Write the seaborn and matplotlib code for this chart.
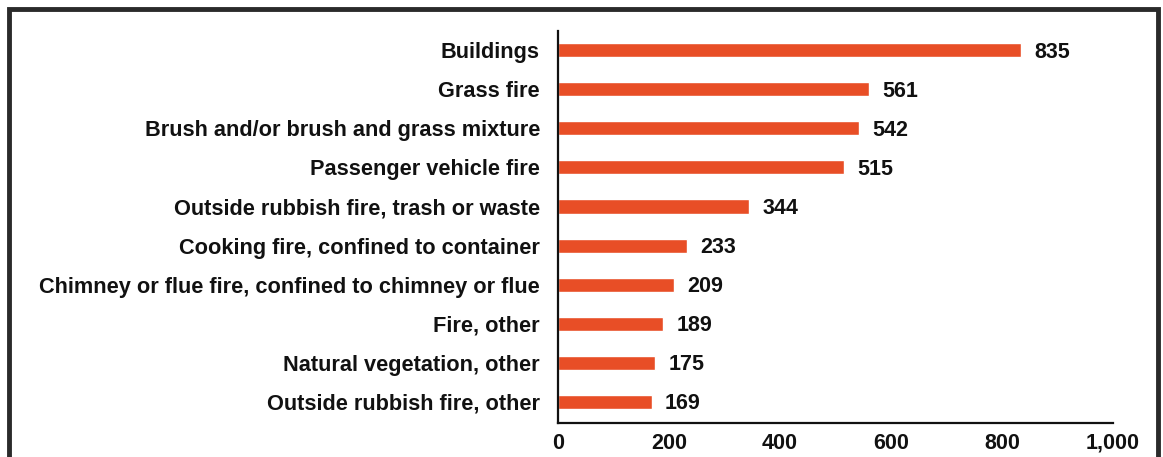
import pandas as pd
import matplotlib.pyplot as plt
import seaborn as sns
from matplotlib.patches import Rectangle
from matplotlib.ticker import FuncFormatter

# Fire incident types and counts
categories = [
    'Buildings',
    'Grass fire',
    'Brush and/or brush and grass mixture',
    'Passenger vehicle fire',
    'Outside rubbish fire, trash or waste',
    'Cooking fire, confined to container',
    'Chimney or flue fire, confined to chimney or flue',
    'Fire, other',
    'Natural vegetation, other',
    'Outside rubbish fire, other',
]
counts = [835, 561, 542, 515, 344, 233, 209, 189, 175, 169]
x_ticks = [0, 200, 400, 600, 800, 1000]

df = pd.DataFrame({'Type': categories, 'Count': counts})

sns.set_style('white')
plt.rcParams['font.family'] = ['Liberation Sans', 'DejaVu Sans']
plt.rcParams['font.weight'] = 'bold'

fig = plt.figure(figsize=(11.63, 4.57), dpi=100)
ax = fig.add_axes([0.4798, 0.0744, 0.957 - 0.4798, 0.932 - 0.0744])

sns.barplot(data=df, x='Count', y='Type', color='#E84E26', width=0.36,
            saturation=1, ax=ax)

for i, v in enumerate(counts):
    ax.text(v + 24, i + 0.05, str(v), va='center', ha='left', fontsize=15.5,
            fontweight='bold', color='#111111')

ax.set_xlim(0, 1000)
ax.set_ylim(9.54, -0.49)
ax.set_xticks(x_ticks)
ax.xaxis.set_major_formatter(FuncFormatter(lambda v, p: f'{int(v):,}'))
ax.set_xlabel('')
ax.set_ylabel('')

for s in ['top', 'right']:
    ax.spines[s].set_visible(False)
for s in ['left', 'bottom']:
    ax.spines[s].set_color('#111111')
    ax.spines[s].set_linewidth(1.6)

ax.tick_params(axis='x', direction='out', length=4, width=1.6, color='#111111',
               labelsize=15.5, pad=3)
ax.tick_params(axis='y', length=0, labelsize=15.7, pad=13)
for lbl in ax.get_xticklabels() + ax.get_yticklabels():
    lbl.set_fontweight('bold')
    lbl.set_color('#111111')

# outer frame
fig.patches.append(Rectangle((9 / 1163, -0.1), 1149 / 1163, 1 - 9 / 457 + 0.1,
                             transform=fig.transFigure, fill=False,
                             edgecolor='#2a2a2a', linewidth=3.5))

fig.savefig('out.png', dpi=100)
